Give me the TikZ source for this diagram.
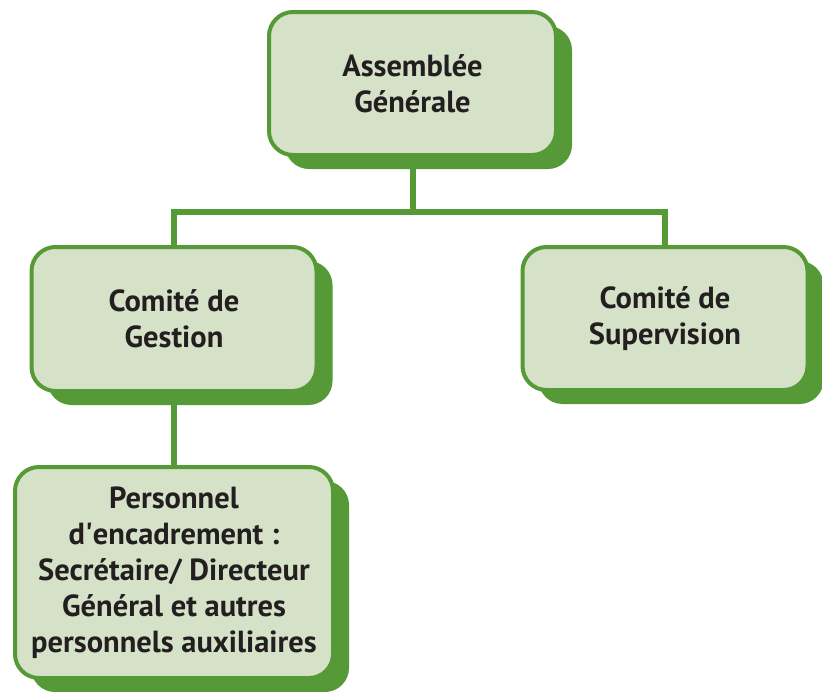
\documentclass[tikz,border=0pt]{standalone}
\usepackage{fontspec}
\setmainfont{PT Sans}
\usetikzlibrary{shadows}
\definecolor{boxgreen}{HTML}{559A36}
\definecolor{boxfill}{HTML}{D5E2C8}
\definecolor{txt}{HTML}{231F20}
\begin{document}
\begin{tikzpicture}[x=1pt,y=1pt,
  orgbox/.style={draw=boxgreen, line width=4pt, fill=boxfill, rounded corners=24pt,
    inner sep=0pt, align=center, text=txt,
    font=\fontsize{30.5}{36}\selectfont\bfseries,
    drop shadow={shadow xshift=16pt, shadow yshift=-14pt, fill=boxgreen, opacity=1}},
  link/.style={draw=boxgreen, line width=6pt}]
\useasboundingbox (0,0) rectangle (822,-691);
\node[orgbox, minimum width=287pt, minimum height=143pt] (ag) at (412.5,-83.5) {Assemblée\\Générale};
\node[orgbox, minimum width=285pt, minimum height=144pt] (cg) at (174,-319) {Comité de\\Gestion};
\node[orgbox, minimum width=285pt, minimum height=143pt] (cs) at (665,-318.5) {Comité de\\Supervision};
\node[orgbox, minimum width=318pt, minimum height=211pt] (pe) at (174,-572.5) {Personnel\\d\textquotesingle encadrement :\\Secrétaire/ Directeur\\Général et autres\\personnels auxiliaires};
\coordinate (j) at (ag.south |- 0,-212);
\path[link] (ag.south) -- (j);
\path[link] (cg.north) |- (j) -| (cs.north);
\path[link] (cg.south) -- (pe.north);
\end{tikzpicture}
\end{document}
